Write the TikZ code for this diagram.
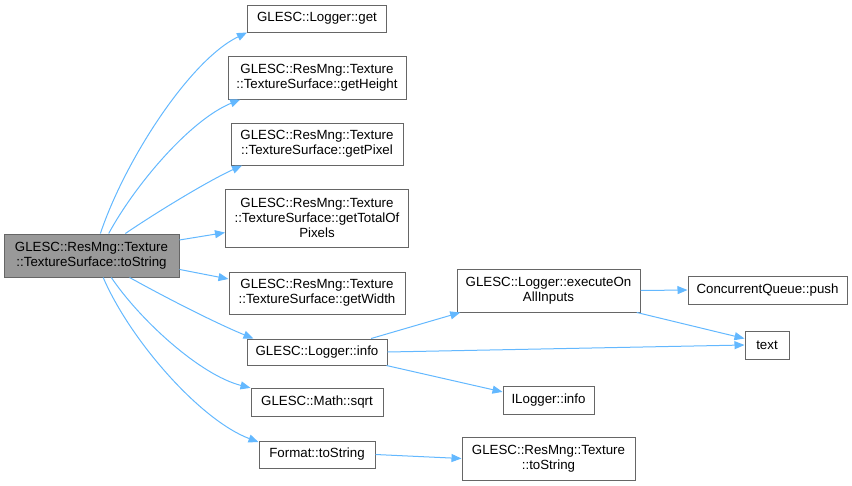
\documentclass[tikz,border=0pt]{standalone}
\usepackage{fontspec}
\setmainfont{Liberation Sans}
\usetikzlibrary{arrows.meta}
\definecolor{Edge}{HTML}{63B8FF}
\definecolor{Frame}{HTML}{666666}
\definecolor{Root}{HTML}{999999}
\tikzset{
  fn/.style={draw=Frame,fill=white,line width=1pt,inner sep=0pt,align=center,font=\fontsize{13.3}{15}\selectfont},
  call/.style={draw=Edge,line width=1pt,-{Triangle[length=10pt,width=8pt,fill=Edge]}}
}
\begin{document}
\begin{tikzpicture}[x=1pt,y=-1pt]
  \useasboundingbox (0,0) rectangle (852,485);
  % caller
  \node[fn,fill=Root,minimum width=175pt,minimum height=43pt] (root) at (91.5,255.5) {GLESC::ResMng::Texture\\::TextureSurface::toString};
  % direct callees
  \foreach \name/\y/\w/\h/\txt in {get/18.5/139/27/{GLESC::Logger::get},
      height/77.5/178/43/{GLESC::ResMng::Texture\\::TextureSurface::getHeight},
      pixel/144/172/42/{GLESC::ResMng::Texture\\::TextureSurface::getPixel},
      total/218/183/58/{GLESC::ResMng::Texture\\::TextureSurface::getTotalOf\\Pixels},
      width/293/176/42/{GLESC::ResMng::Texture\\::TextureSurface::getWidth},
      info/352/140/26/{GLESC::Logger::info},
      sqrt/402/132/28/{GLESC::Math::sqrt},
      fmt/454.5/116/27/{Format::toString}}
    \node[fn,minimum width=\w pt,minimum height=\h pt] (\name) at (317,\y) {\txt};
  % second level
  \node[fn,minimum width=183pt,minimum height=43pt] (exec) at (548.5,290.5) {GLESC::Logger::executeOn\\AllInputs};
  \node[fn,minimum width=159pt,minimum height=28pt] (push) at (767.5,290) {ConcurrentQueue::push};
  \node[fn,minimum width=44pt,minimum height=28pt] (textfn) at (767,345) {text};
  \node[fn,minimum width=91pt,minimum height=28pt] (ilog) at (548.5,400) {ILogger::info};
  \node[fn,minimum width=173pt,minimum height=43pt] (tex) at (548.5,458.5) {GLESC::ResMng::Texture\\::toString};
  % calls
  \draw[call] (root.68) .. controls (125,160) and (190,60) .. (get.south west);
  \draw[call] (root.52) .. controls (135,185) and (190,120) .. (height.196);
  \draw[call] (root.33) .. controls (160,210) and (210,180) .. (pixel.196);
  \draw[call] (root.10) -- (total.189);
  \draw[call] (root.-9) -- (width.171);
  \draw[call] (root.-30) .. controls (170,300) and (220,325) .. (info.168);
  \draw[call] (root.-48) .. controls (140,320) and (200,375) .. (sqrt.168);
  \draw[call] (root.-62) .. controls (130,340) and (200,420) .. (fmt.168);
  \draw[call] (info.14) -- (exec.194);
  \draw[call] (info.east) -- (textfn.west);
  \draw[call] (info.-11) -- (ilog.170);
  \draw[call] (exec.east) -- (push.west);
  \draw[call] (exec.-14) -- (textfn.164);
  \draw[call] (fmt.east) -- (tex.west);
\end{tikzpicture}
\end{document}
